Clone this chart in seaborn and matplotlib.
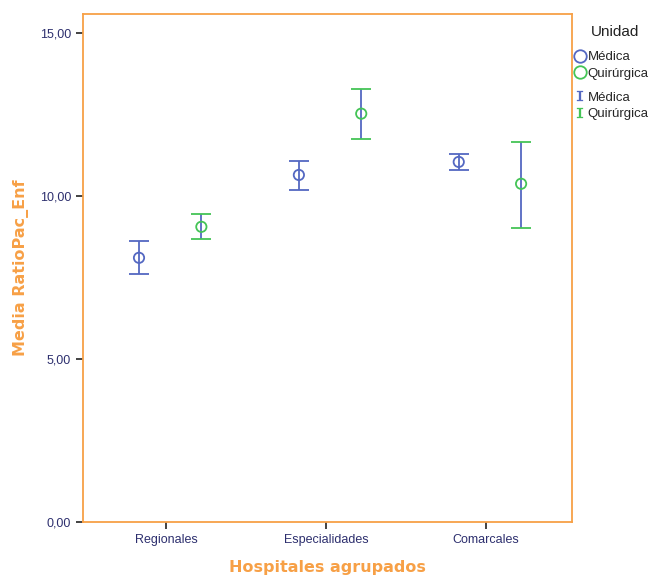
import pandas as pd
import matplotlib.pyplot as plt
import seaborn as sns
from matplotlib.lines import Line2D

# Values
hospitales = ['Regionales', 'Especialidades', 'Comarcales']
unidades = ['Médica', 'Quirúrgica']
media_medica = [8.10, 10.64, 11.04]
media_quirurgica = [9.05, 12.52, 10.37]
inf_medica = [7.61, 10.18, 10.80]
sup_medica = [8.62, 11.07, 11.29]
inf_quirurgica = [8.68, 11.75, 9.02]
sup_quirurgica = [9.45, 13.28, 11.66]

colores = {'Médica': '#5468c2', 'Quirúrgica': '#44c456'}
naranja = '#f7a046'
azul_texto = '#2d2f6e'
dodge = {'Médica': -0.17, 'Quirúrgica': 0.22}

df = pd.DataFrame({
    'Hospital': hospitales * 2,
    'Unidad': ['Médica'] * 3 + ['Quirúrgica'] * 3,
    'Media': media_medica + media_quirurgica,
    'Inf': inf_medica + inf_quirurgica,
    'Sup': sup_medica + sup_quirurgica,
})
df['pos'] = df['Hospital'].map({h: i for i, h in enumerate(hospitales)}) + df['Unidad'].map(dodge)

sns.set_style('white')
plt.rcParams['font.family'] = ['Liberation Sans', 'DejaVu Sans']

fig = plt.figure(figsize=(6.54, 5.78), dpi=100)
ax = fig.add_axes([0.127, 0.097, 0.748, 0.879])

for u in unidades:
    sub = df[df['Unidad'] == u]
    ax.errorbar(sub['pos'], sub['Media'],
                yerr=[sub['Media'] - sub['Inf'], sub['Sup'] - sub['Media']],
                fmt='none', ecolor=colores[u], elinewidth=1.3, capsize=7.5, capthick=1.3)
sns.scatterplot(data=df, x='pos', y='Media', hue='Unidad', palette=colores, ax=ax,
                marker='o', s=55, linewidth=1.3, legend=False, zorder=3)
# make circles hollow
for coll in ax.collections:
    coll.set_facecolor('none')
    coll.set_edgecolor([colores[u] for u in df['Unidad']])

ax.set_xlim(-0.52, 2.54)
ax.set_ylim(0, 15.58)
ax.set_xticks(range(len(hospitales)))
ax.set_xticklabels(hospitales)
ax.set_yticks([0, 5, 10, 15])
ax.set_yticklabels(['0,00', '5,00', '10,00', '15,00'])
ax.tick_params(axis='both', which='major', direction='out', length=5, width=1.2,
               color='#222222', labelcolor=azul_texto, labelsize=9, left=True, bottom=True)
for s in ax.spines.values():
    s.set_color(naranja)
    s.set_linewidth(1.3)

ax.set_xlabel('Hospitales agrupados', color=naranja, fontsize=11.5, fontweight='bold',
              family='DejaVu Sans', labelpad=10)
ax.set_ylabel('Media RatioPac_Enf', color=naranja, fontsize=11.5, fontweight='bold',
              family='DejaVu Sans', labelpad=8)

# legend: title, hollow circles, then error-bar symbols
fig.text(615 / 654, 1 - 32 / 578, 'Unidad', ha='center', va='center', fontsize=11, color='#222222')
circulos = [Line2D([], [], ls='none', marker='o', ms=9, mfc='none', mec=colores[u], mew=1.3)
            for u in unidades]
barras = [Line2D([], [], ls='none', marker='$\\mathtt{I}$', ms=7, mew=0.2, color=colores[u])
          for u in unidades]
leg1 = ax.legend(circulos, unidades, loc='upper left',
                 bbox_to_anchor=(0.995, 0.937), frameon=False, fontsize=9.5,
                 handlelength=0.8, handletextpad=0.15, labelspacing=0.3, borderaxespad=0.0)
ax.add_artist(leg1)
ax.legend(barras, unidades, loc='upper left', bbox_to_anchor=(0.995, 0.857), frameon=False,
          fontsize=9.5, handlelength=0.8, handletextpad=0.15, labelspacing=0.3, borderaxespad=0.0)

fig.savefig('out.png', dpi=100)
